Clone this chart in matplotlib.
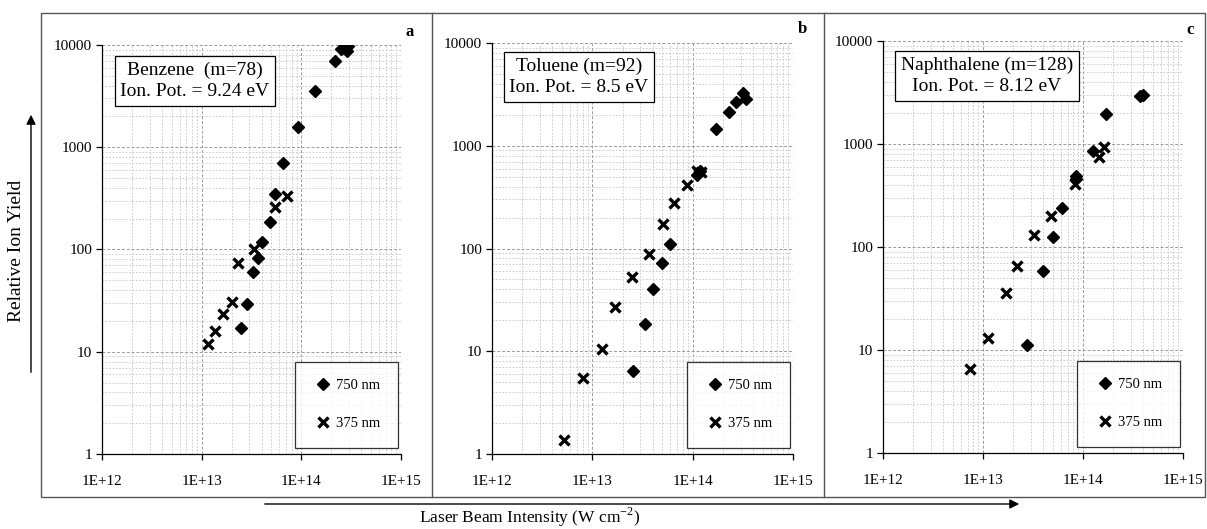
import matplotlib
matplotlib.use("Agg")
import matplotlib.pyplot as plt
from matplotlib.lines import Line2D
from matplotlib.patches import Rectangle, FancyArrowPatch
from matplotlib.ticker import FixedLocator, LogLocator, NullFormatter

plt.rcParams["font.family"] = ["Liberation Serif", "DejaVu Serif"]

# panel a: benzene
benz_750_x = [2.93e14, 2.85e14, 2.5e14, 2.17e14, 1.37e14, 9.3e13, 6.5e13, 5.4e13,
              4.84e13, 4.05e13, 3.7e13, 3.3e13, 2.87e13, 2.5e13]
benz_750_y = [9800, 8800, 9100, 7000, 3560, 1580, 708, 347, 185, 119, 83, 60, 29, 17]
benz_375_x = [7.1e13, 5.5e13, 3.35e13, 2.3e13, 2.03e13, 1.62e13, 1.36e13, 1.15e13]
benz_375_y = [333, 260, 100, 73, 30.7, 23.6, 15.8, 12]

# panel b: toluene
tol_750_x = [3.2e14, 3.37e14, 2.72e14, 2.3e14, 1.69e14, 1.1e14, 1.17e14, 5.98e13,
             4.94e13, 4.02e13, 3.38e13, 2.54e13]
tol_750_y = [3260, 2850, 2640, 2140, 1465, 522, 562, 110, 73, 40, 18.5, 6.4]
tol_375_x = [1.1e14, 1.2e14, 8.8e13, 6.5e13, 5.1e13, 3.64e13, 2.48e13, 1.7e13,
             1.25e13, 8.07e12, 5.2e12]
tol_375_y = [562, 560, 417, 277, 174, 88, 53, 26.8, 10.5, 5.46, 1.37]

# panel c: naphthalene
naph_750_x = [4.0e14, 3.7e14, 1.69e14, 1.26e14, 8.6e13, 8.5e13, 6.2e13, 4.96e13,
              3.95e13, 2.74e13]
naph_750_y = [3020, 2910, 1960, 849, 484, 460, 241, 126, 59, 11.1]
naph_375_x = [1.63e14, 1.43e14, 8.4e13, 4.74e13, 3.26e13, 2.21e13, 1.7e13, 1.13e13, 7.4e12]
naph_375_y = [935, 753, 408, 202, 131, 65, 36, 13.1, 6.6]

panel_letters = ["a", "b", "c"]
box_texts = ["Benzene  (m=78)\nIon. Pot. = 9.24 eV",
             "Toluene (m=92)\nIon. Pot. = 8.5 eV",
             "Naphthalene (m=128)\nIon. Pot. = 8.12 eV"]
x_ticks = [1e12, 1e13, 1e14, 1e15]
x_tick_labels = ["1E+12", "1E+13", "1E+14", "1E+15"]
y_ticks = [1, 10, 100, 1000, 10000]
y_tick_labels = ["1", "10", "100", "1000", "10000"]

W, H = 1207, 529
fig = plt.figure(figsize=(W / 100, H / 100), dpi=100)


def rect(x0, y0, x1, y1):
    """pixel box (top-left origin) -> figure fraction rect"""
    return [x0 / W, 1 - y1 / H, (x1 - x0) / W, (y1 - y0) / H]


panels = [
    (rect(102, 45, 401, 454), benz_750_x, benz_750_y, benz_375_x, benz_375_y),
    (rect(492, 43, 793, 454), tol_750_x, tol_750_y, tol_375_x, tol_375_y),
    (rect(883, 41, 1183, 453), naph_750_x, naph_750_y, naph_375_x, naph_375_y),
]
letter_pos = [(410, 32), (802, 29), (1190, 30)]
box_centres = [(0.311, 0.913), (0.289, 0.918), (0.347, 0.915)]

for i, (pos, x750, y750, x375, y375) in enumerate(panels):
    ax = fig.add_axes(pos)
    ax.set_xscale("log")
    ax.set_yscale("log")
    ax.set_xlim(1e12, 1e15)
    ax.set_ylim(1, 10000)
    ax.xaxis.set_major_locator(FixedLocator(x_ticks))
    ax.set_xticklabels(x_tick_labels)
    ax.yaxis.set_major_locator(FixedLocator(y_ticks))
    ax.set_yticklabels(y_tick_labels)
    ax.xaxis.set_minor_locator(LogLocator(base=10, subs=range(2, 10)))
    ax.yaxis.set_minor_locator(LogLocator(base=10, subs=range(2, 10)))
    ax.xaxis.set_minor_formatter(NullFormatter())
    ax.yaxis.set_minor_formatter(NullFormatter())
    ax.tick_params(which="major", direction="out", length=4, width=0.9,
                   labelsize=11, pad=11, colors="black")
    ax.tick_params(axis="y", which="major", pad=3)
    ax.tick_params(which="minor", length=0)
    ax.grid(which="major", color="#9a9a9a", linestyle=(0, (3, 2)), linewidth=0.7)
    ax.grid(which="minor", color="#c4c4c4", linestyle=(0, (2, 2)), linewidth=0.6)
    for side in ["top", "right"]:
        ax.spines[side].set_visible(False)
    for side in ["left", "bottom"]:
        ax.spines[side].set_linewidth(0.9)

    ax.plot(x750, y750, linestyle="none", marker="D", markersize=6.5,
            color="black", label="750 nm", zorder=3)
    ax.plot(x375, y375, linestyle="none", marker="x", markersize=7.5,
            markeredgewidth=2.4, color="black", label="375 nm", zorder=3)

    bx, by = box_centres[i]
    ax.text(bx, by, box_texts[i], transform=ax.transAxes,
            fontsize=14, ha="center", va="center", linespacing=1.3,
            multialignment="center",
            bbox=dict(boxstyle="square,pad=0.3", facecolor="white",
                      edgecolor="black", linewidth=0.9), zorder=4)

    leg = ax.legend(loc="lower right", bbox_to_anchor=(0.99, 0.015), fontsize=10.5,
                    frameon=True, fancybox=False, edgecolor="black",
                    labelspacing=1.7, handletextpad=0.2, handlelength=1.4,
                    borderpad=1.2, borderaxespad=0.0)
    leg.get_frame().set_linewidth(0.9)
    leg.set_zorder(5)

    lx, ly = letter_pos[i]
    fig.text(lx / W, 1 - ly / H, panel_letters[i], fontsize=12, fontweight="bold",
             ha="center", va="center")

# outer frame and panel dividers
frame = Rectangle((41 / W, 1 - 497 / H), (1205 - 41) / W, (497 - 13) / H,
                  transform=fig.transFigure, fill=False, edgecolor="#555555",
                  linewidth=1.0)
fig.add_artist(frame)
for xd in [432, 824]:
    fig.add_artist(Line2D([xd / W, xd / W], [1 - 497 / H, 1 - 13 / H],
                          transform=fig.transFigure, color="#555555", linewidth=1.0))

# axis arrows
fig.add_artist(FancyArrowPatch((262 / W, 1 - 504 / H), (1022 / W, 1 - 504 / H),
                               transform=fig.transFigure, arrowstyle="-|>",
                               mutation_scale=14, color="black", linewidth=1.0))
fig.add_artist(FancyArrowPatch((31 / W, 1 - 375 / H), (31 / W, 1 - 112 / H),
                               transform=fig.transFigure, arrowstyle="-|>",
                               mutation_scale=14, color="black", linewidth=1.0))
fig.text(530 / W, 1 - 517 / H, "Laser Beam Intensity (W cm$^{\\mathregular{-2}}$)",
         fontsize=12.5, ha="center", va="center")
fig.text(17 / W, 1 - 251 / H, "Relative Ion Yield", fontsize=14, rotation=90,
         ha="center", va="center")

fig.savefig("out.png", dpi=100)
